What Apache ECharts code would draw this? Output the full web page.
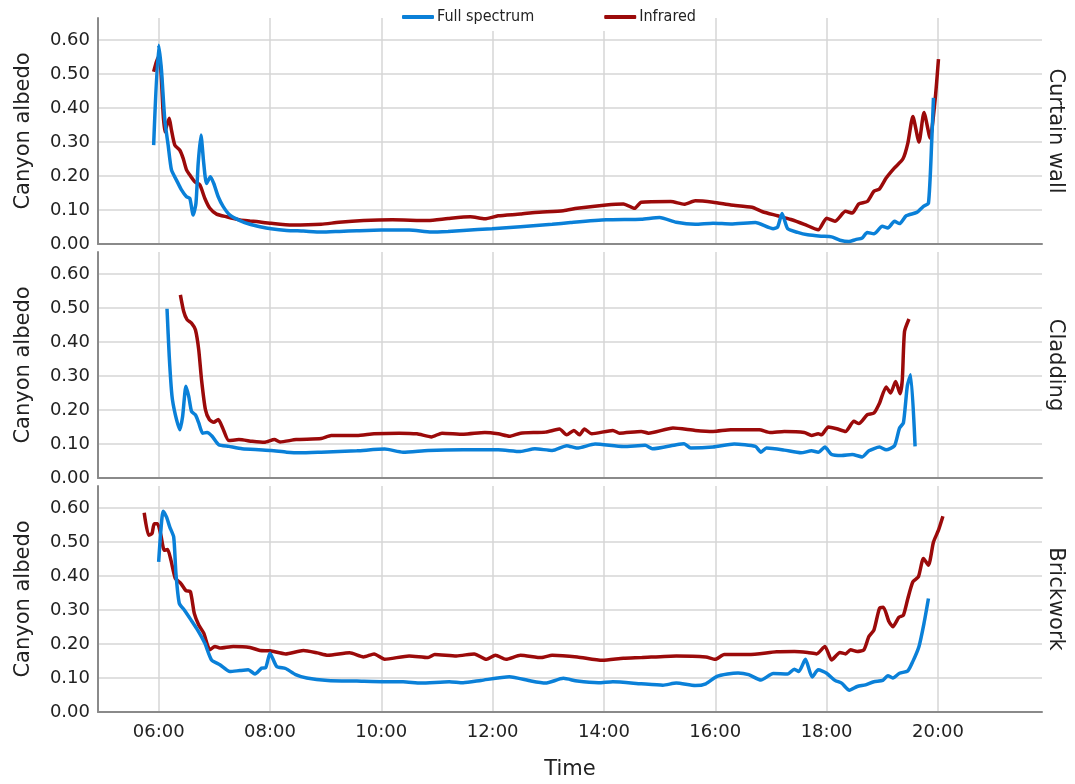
<!DOCTYPE html>
<html>
<head>
<meta charset="utf-8">
<script src="https://cdn.jsdelivr.net/npm/echarts@6/dist/echarts.min.js"></script>
<style>html,body{margin:0;padding:0;background:#fff}#c{width:1075px;height:784px}</style>
</head>
<body>
<div id="c"></div>
<script>
// ---- Data (time in decimal hours, albedo values) ----
const seriesNames = ['Full spectrum', 'Infrared'];
const panelNames = ['Curtain wall', 'Cladding', 'Brickwork'];
const yTickValues = [0, 0.1, 0.2, 0.3, 0.4, 0.5, 0.6];
const xTickHours = [6, 8, 10, 12, 14, 16, 18, 20];
const xTickLabels = ['06:00', '08:00', '10:00', '12:00', '14:00', '16:00', '18:00', '20:00'];

// Curtain wall
const cwFullT = [5.91,6.0,6.05,6.11,6.17,6.23,6.32,6.41,6.5,6.56,6.62,6.67,6.71,6.76,6.81,6.86,6.93,6.99,7.07,7.16,7.28,7.46,7.64,7.82,8.02,8.3,8.6,8.92,9.25,9.56,10.0,10.5,10.9,11.2,11.47,11.99,12.5,13.07,13.4,14.04,14.67,15.0,15.3,15.64,15.96,16.28,16.72,17.04,17.12,17.2,17.3,17.48,17.66,17.9,18.09,18.24,18.4,18.52,18.64,18.73,18.85,19.0,19.1,19.22,19.31,19.43,19.62,19.74,19.83,19.89,19.92];
const cwFullV = [0.291,0.585,0.512,0.365,0.291,0.218,0.188,0.159,0.139,0.134,0.085,0.12,0.237,0.321,0.237,0.178,0.198,0.178,0.139,0.11,0.085,0.069,0.058,0.051,0.045,0.040,0.038,0.035,0.037,0.039,0.041,0.041,0.035,0.037,0.040,0.045,0.051,0.058,0.063,0.071,0.073,0.078,0.064,0.058,0.061,0.059,0.063,0.045,0.05,0.09,0.045,0.034,0.027,0.023,0.021,0.011,0.007,0.013,0.018,0.034,0.030,0.052,0.047,0.067,0.06,0.083,0.093,0.111,0.12,0.307,0.43];
const cwIrT = [5.91,5.96,6.0,6.04,6.08,6.11,6.14,6.19,6.23,6.29,6.38,6.44,6.5,6.56,6.65,6.74,6.83,6.92,7.04,7.22,7.46,7.64,7.76,8.02,8.4,8.92,9.24,9.68,10.2,10.84,11.2,11.6,11.86,12.1,12.5,12.76,13.27,13.52,14.04,14.35,14.55,14.67,15.2,15.44,15.64,15.96,16.28,16.66,16.85,17.12,17.36,17.6,17.85,18.0,18.15,18.34,18.46,18.58,18.73,18.85,18.95,19.07,19.22,19.37,19.46,19.55,19.66,19.75,19.86,19.95,20.01];
const cwIrV = [0.507,0.536,0.551,0.512,0.384,0.33,0.345,0.37,0.335,0.291,0.276,0.252,0.218,0.203,0.183,0.174,0.134,0.105,0.088,0.08,0.071,0.068,0.066,0.061,0.056,0.058,0.064,0.069,0.071,0.069,0.075,0.08,0.074,0.083,0.088,0.093,0.098,0.105,0.115,0.118,0.105,0.123,0.125,0.117,0.127,0.123,0.115,0.108,0.095,0.083,0.072,0.058,0.042,0.076,0.067,0.096,0.091,0.118,0.125,0.155,0.162,0.194,0.224,0.25,0.297,0.375,0.3,0.387,0.312,0.425,0.544];

// Cladding
const clFullT = [6.15,6.19,6.24,6.3,6.38,6.43,6.49,6.54,6.59,6.66,6.72,6.79,6.87,6.96,7.08,7.26,7.5,7.8,8.02,8.3,8.53,8.92,9.56,10.06,10.39,10.84,11.47,12.1,12.5,12.76,13.07,13.33,13.52,13.84,14.35,14.74,14.87,15.3,15.44,15.56,15.96,16.34,16.72,16.82,16.92,17.24,17.54,17.73,17.85,17.97,18.09,18.27,18.46,18.64,18.76,18.95,19.07,19.22,19.31,19.38,19.45,19.51,19.59];
const clFullV = [0.498,0.358,0.24,0.186,0.142,0.181,0.27,0.24,0.196,0.186,0.162,0.132,0.134,0.123,0.098,0.093,0.086,0.083,0.081,0.076,0.074,0.076,0.080,0.085,0.076,0.081,0.083,0.083,0.078,0.086,0.081,0.095,0.088,0.1,0.093,0.096,0.086,0.098,0.101,0.088,0.091,0.1,0.093,0.076,0.088,0.082,0.074,0.08,0.076,0.091,0.069,0.066,0.069,0.062,0.08,0.091,0.083,0.095,0.147,0.162,0.27,0.304,0.093];
const clIrT = [6.39,6.45,6.51,6.59,6.66,6.72,6.77,6.84,6.91,6.99,7.07,7.15,7.26,7.44,7.68,7.9,8.08,8.18,8.47,8.92,9.1,9.56,9.87,10.32,10.64,10.9,11.09,11.48,11.86,12.1,12.3,12.5,12.95,13.2,13.33,13.46,13.56,13.65,13.78,14.16,14.28,14.67,14.8,15.24,15.64,15.96,16.28,16.79,16.98,17.24,17.6,17.73,17.85,17.91,18.03,18.18,18.34,18.49,18.58,18.73,18.85,18.95,19.07,19.15,19.24,19.32,19.36,19.4,19.48];
const clIrV = [0.539,0.49,0.466,0.456,0.436,0.377,0.289,0.201,0.172,0.164,0.172,0.147,0.11,0.113,0.108,0.105,0.113,0.106,0.113,0.116,0.125,0.125,0.13,0.132,0.13,0.121,0.132,0.129,0.134,0.13,0.123,0.132,0.135,0.144,0.127,0.14,0.127,0.144,0.13,0.14,0.132,0.137,0.132,0.147,0.14,0.137,0.142,0.142,0.134,0.137,0.134,0.125,0.13,0.127,0.15,0.145,0.137,0.167,0.16,0.186,0.191,0.22,0.268,0.25,0.284,0.248,0.289,0.431,0.468];

// Brickwork
const bwFullT = [6.0,6.04,6.08,6.14,6.2,6.27,6.31,6.37,6.46,6.58,6.7,6.83,6.95,7.1,7.28,7.46,7.61,7.73,7.85,7.92,8.0,8.12,8.28,8.46,8.66,9.04,9.56,10.06,10.39,10.71,11.22,11.47,11.79,12.3,12.69,12.95,13.27,13.52,13.9,14.16,14.67,15.06,15.3,15.64,15.83,16.03,16.22,16.41,16.6,16.82,17.04,17.3,17.42,17.5,17.62,17.74,17.85,18.0,18.15,18.27,18.41,18.55,18.7,18.85,19.01,19.1,19.19,19.31,19.46,19.55,19.66,19.75,19.83];
const bwFullV = [0.442,0.535,0.591,0.574,0.544,0.515,0.408,0.32,0.3,0.271,0.241,0.202,0.153,0.139,0.119,0.122,0.124,0.112,0.129,0.13,0.173,0.134,0.128,0.11,0.1,0.093,0.091,0.089,0.089,0.085,0.089,0.086,0.093,0.104,0.091,0.085,0.099,0.091,0.086,0.089,0.083,0.079,0.085,0.078,0.083,0.105,0.112,0.115,0.11,0.094,0.113,0.112,0.126,0.119,0.155,0.103,0.124,0.114,0.093,0.085,0.064,0.075,0.08,0.089,0.093,0.107,0.1,0.114,0.121,0.149,0.193,0.261,0.334];
const bwIrT = [5.74,5.82,5.88,5.92,5.98,6.04,6.1,6.16,6.22,6.3,6.4,6.49,6.57,6.64,6.72,6.81,6.92,7.01,7.1,7.34,7.64,7.82,8.0,8.28,8.6,8.85,9.04,9.43,9.68,9.87,10.06,10.5,10.84,10.96,11.35,11.67,11.89,12.05,12.24,12.5,12.88,13.07,13.52,13.97,14.35,14.67,15.3,15.83,16.0,16.16,16.6,17.1,17.42,17.66,17.82,17.97,18.09,18.24,18.34,18.43,18.55,18.67,18.76,18.85,18.95,19.02,19.12,19.19,19.3,19.38,19.46,19.55,19.65,19.74,19.83,19.92,20.01,20.09];
const bwIrV = [0.586,0.52,0.525,0.554,0.554,0.52,0.476,0.478,0.447,0.393,0.378,0.357,0.354,0.29,0.256,0.232,0.183,0.193,0.188,0.193,0.19,0.181,0.18,0.171,0.181,0.174,0.167,0.174,0.162,0.171,0.155,0.165,0.16,0.169,0.165,0.171,0.155,0.167,0.155,0.167,0.16,0.167,0.162,0.152,0.158,0.16,0.165,0.162,0.155,0.169,0.169,0.177,0.178,0.175,0.171,0.193,0.153,0.175,0.171,0.183,0.178,0.183,0.222,0.241,0.305,0.308,0.266,0.251,0.279,0.285,0.334,0.383,0.398,0.452,0.432,0.5,0.535,0.576];

// ---- Chart ----
const BLUE = '#0a80d8';
const RED = '#9b0a0a';
const pairs = (t, v) => t.map((x, i) => [x, v[i]]);
const panelData = [
  [pairs(cwFullT, cwFullV), pairs(cwIrT, cwIrV)],
  [pairs(clFullT, clFullV), pairs(clIrT, clIrV)],
  [pairs(bwFullT, bwFullV), pairs(bwIrT, bwIrV)]
];
const gridTops = [18, 252, 486];
const gridH = 226;
const FONT = 'DejaVu Sans';

const grids = gridTops.map(t => ({ left: 98, width: 944, top: t, height: gridH }));
const xAxes = gridTops.map((t, i) => ({
  type: 'value', gridIndex: i, min: 4.91, max: 21.87,
  axisLine: { show: true, lineStyle: { color: '#8a8a8a', width: 2 } },
  axisTick: { show: false, customValues: xTickHours },
  axisLabel: {
    show: i === 2, customValues: xTickHours, margin: 11,
    fontFamily: FONT, fontSize: 18, color: '#222',
    formatter: v => xTickLabels[xTickHours.indexOf(v)]
  },
  splitLine: { show: true, lineStyle: { color: '#d6d6d6', width: 1.5 } },
  name: i === 2 ? 'Time' : '', nameLocation: 'middle', nameGap: 47,
  nameTextStyle: { fontFamily: FONT, fontSize: 21, color: '#222' }
}));
const yAxes = [];
gridTops.forEach((t, i) => {
  yAxes.push({
    type: 'value', gridIndex: i, min: 0, max: 0.665, position: 'left',
    axisLine: { show: true, lineStyle: { color: '#8a8a8a', width: 2 } },
    axisTick: { show: false, customValues: yTickValues },
    axisLabel: {
      customValues: yTickValues, margin: 8,
      fontFamily: FONT, fontSize: 18, color: '#222',
      formatter: v => v.toFixed(2)
    },
    splitLine: { show: true, lineStyle: { color: '#d6d6d6', width: 1.5 } },
    name: 'Canyon albedo', nameLocation: 'middle', nameGap: 64,
    nameTextStyle: { fontFamily: FONT, fontSize: 21, color: '#222' }
  });
  yAxes.push({
    type: 'value', gridIndex: i, min: 0, max: 0.665, position: 'right',
    axisLine: { show: false }, axisTick: { show: false },
    axisLabel: { show: false }, splitLine: { show: false },
    name: panelNames[i], nameLocation: 'middle', nameGap: 24, nameRotate: -90,
    nameTextStyle: { fontFamily: FONT, fontSize: 21, color: '#222', verticalAlign: 'top' }
  });
});

const series = [];
panelData.forEach((pd, i) => {
  pd.forEach((d, j) => {
    series.push({
      name: seriesNames[j], type: 'line', xAxisIndex: i, yAxisIndex: i * 2,
      data: d, showSymbol: false, symbol: 'none', smooth: 0.2,
      lineStyle: { color: j === 0 ? BLUE : RED, width: 3.5 },
      itemStyle: { color: j === 0 ? BLUE : RED },
      z: j === 0 ? 3 : 2
    });
  });
});

const chart = echarts.init(document.getElementById('c'), null, { renderer: 'canvas' });
chart.setOption({
  animation: false,
  backgroundColor: '#fff',
  legend: {
    data: seriesNames, left: 398, top: 5, itemGap: 70, itemWidth: 32, itemHeight: 4,
    icon: 'roundRect', backgroundColor: '#fff', padding: [4, 4, 6, 4],
    textStyle: { fontFamily: 'DejaVu Sans Condensed, DejaVu Sans', fontSize: 16, color: '#222', padding: [0, 0, 0, -2] }
  },
  grid: grids, xAxis: xAxes, yAxis: yAxes, series: series
});
</script>
</body>
</html>
